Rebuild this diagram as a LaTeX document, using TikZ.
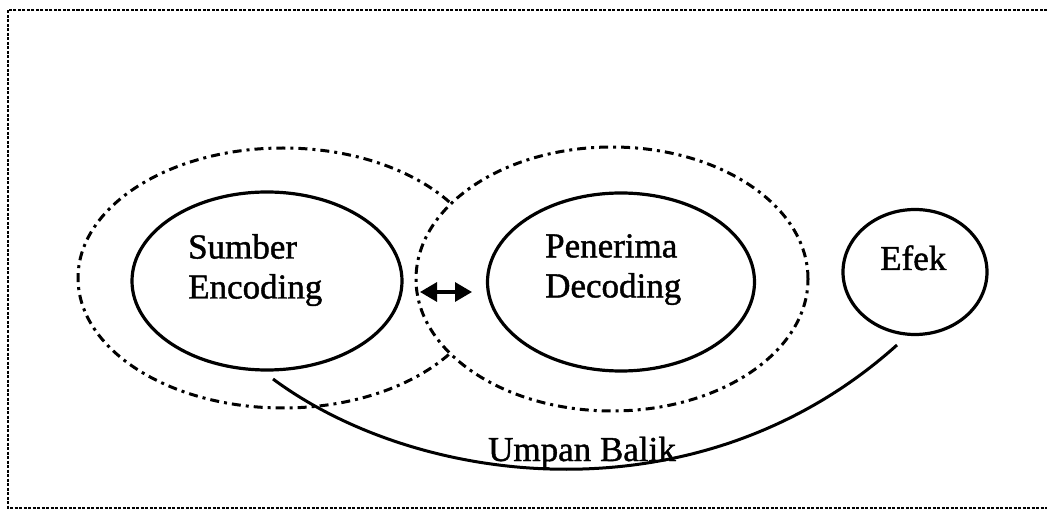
\documentclass[tikz,border=0pt]{standalone}
\usepackage{fontspec}
\setmainfont{Liberation Serif}
\newfontfamily\scanfont{Liberation Serif}[FakeBold=1.2]
\usetikzlibrary{shapes.geometric,arrows.meta}
\tikzset{
  frameline/.style={line width=2.4pt, dash pattern=on 3pt off 1.5pt},
  outerell/.style={ellipse, draw, line width=3pt, dash pattern=on 9pt off 5pt on 3pt off 5pt, inner sep=0pt},
  innerell/.style={ellipse, draw, line width=3.2pt, inner sep=0pt},
  lbl/.style={font=\scanfont\fontsize{35}{40}\selectfont, inner sep=0pt, align=left},
  link/.style={line width=3pt},
  bighead/.style={line width=3.2pt, {Triangle[length=17pt,width=19pt]}-{Triangle[length=17pt,width=19pt]}},
}
\begin{document}
\begin{tikzpicture}[x=1pt,y=-1pt]
\useasboundingbox (0,0) rectangle (1047,510);
\fill[white] (0,0) rectangle (1047,510);
% frame (open at right)
\draw[frameline] (1047,10) -- (8,10) -- (8,508) -- (1047,508);
% outer dash-dot ellipses
\node[outerell, minimum width=410pt, minimum height=260pt] (src) at (283,278) {};
\node[outerell, fill=white, minimum width=392pt, minimum height=264pt] (rcv) at (612,279) {};
% inner ellipses
\node[innerell, minimum width=270pt, minimum height=178pt] (enc) at (267,281) {};
\node[innerell, minimum width=267pt, minimum height=178pt] (dec) at (621,282) {};
\node[innerell, minimum width=144pt, minimum height=125pt] (efek) at (915,272) {};
% texts
\node[lbl, anchor=north west] (encT) at (188,234) {Sumber\\Encoding};
\node[lbl, anchor=north west] (decT) at (545,234) {Penerima\\Decoding};
\node[lbl, anchor=base west] (efekT) at (880,270) {Efek};
% double arrow
\coordinate (aL) at (420,292);
\coordinate (aR) at (472,292);
\draw[bighead] (aL) -- (aR);
% feedback curve
\coordinate (fbS) at (273,379);
\coordinate (fbE) at (897,345);
\draw[link] (fbS) .. controls (420,488) and (700,522) .. (fbE);
\node[lbl, anchor=base west] (fbT) at (488,461) {Umpan Balik};
\end{tikzpicture}
\end{document}
